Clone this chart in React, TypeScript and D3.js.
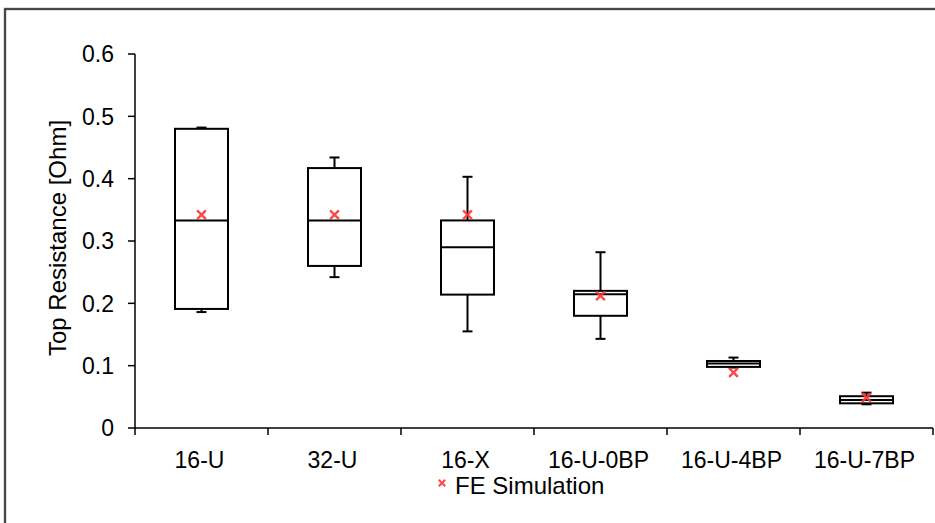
import React from "react";
import * as d3 from "d3";

const categories = ["16-U", "32-U", "16-X", "16-U-0BP", "16-U-4BP", "16-U-7BP"];
const whiskerLow = [0.186, 0.242, 0.155, 0.143, 0.097, 0.038];
const q1 = [0.191, 0.26, 0.214, 0.18, 0.098, 0.0396];
const median = [0.333, 0.333, 0.29, 0.2145, 0.1035, 0.045];
const q3 = [0.48, 0.417, 0.333, 0.22, 0.1075, 0.051];
const whiskerHigh = [0.482, 0.434, 0.403, 0.282, 0.113, 0.0567];
const feSimulation = [0.342, 0.342, 0.342, 0.212, 0.089, 0.049];
const yTicks = [0, 0.1, 0.2, 0.3, 0.4, 0.5, 0.6];

const width = 935;
const height = 523;
const font = "'Liberation Sans', Arial, sans-serif";
const red = "#ff3434";

const x = d3.scaleBand().domain(categories).range([135, 933]).padding(0);
const y = d3.scaleLinear().domain([0, 0.6]).range([428, 54]);

const boxW = 53;
const capW = 10;

const Cross = ({ cx, cy, r, w }: { cx: number; cy: number; r: number; w: number }) => (
  <g stroke={red} strokeWidth={w} strokeLinecap="square" opacity={0.9}>
    <line x1={cx - r} y1={cy - r} x2={cx + r} y2={cy + r} />
    <line x1={cx - r} y1={cy + r} x2={cx + r} y2={cy - r} />
  </g>
);

export default function App() {
  const data = categories.map((c, i) => ({
    c,
    lo: whiskerLow[i],
    q1: q1[i],
    med: median[i],
    q3: q3[i],
    hi: whiskerHigh[i],
    fe: feSimulation[i],
  }));
  const bounds = [...categories.map((c) => x(c) as number), x.range()[1]];

  return (
    <svg
      width={width}
      height={height}
      style={{ position: "absolute", left: 0, top: 0, background: "#fff" }}
      fontFamily={font}
    >
      {/* frame */}
      <path d={`M5,${height} V9 H${width}`} fill="none" stroke="#bbb" strokeWidth={3} />
      <path d={`M5,${height} V9 H${width}`} fill="none" stroke="#222" strokeWidth={1.5} />

      {/* y axis */}
      <line x1={135} x2={135} y1={y(0.6)} y2={y(0)} stroke="#000" strokeWidth={1.5} />
      {yTicks.map((t) => (
        <g key={t}>
          <line x1={128} x2={135} y1={y(t)} y2={y(t)} stroke="#000" strokeWidth={1.5} />
          <text x={114} y={y(t)} dy="0.36em" textAnchor="end" fontSize={23}>
            {t === 0 ? "0" : t.toFixed(1)}
          </text>
        </g>
      ))}
      <text
        transform={`translate(66,238) rotate(-90)`}
        textAnchor="middle"
        fontSize={24}
      >
        Top Resistance [Ohm]
      </text>

      {/* x axis */}
      <line x1={135} x2={x.range()[1]} y1={y(0)} y2={y(0)} stroke="#000" strokeWidth={1.5} />
      {bounds.map((b, i) => (
        <line key={i} x1={b} x2={b} y1={y(0)} y2={y(0) + 7} stroke="#000" strokeWidth={1.5} />
      ))}
      {categories.map((c) => (
        <text
          key={c}
          x={(x(c) as number) + x.bandwidth() / 2 - 2}
          y={468}
          textAnchor="middle"
          fontSize={23}
        >
          {c}
        </text>
      ))}

      {/* boxes */}
      {data.map((d) => {
        const cx = (x(d.c) as number) + x.bandwidth() / 2;
        return (
          <g key={d.c} stroke="#000" strokeWidth={2} fill="none">
            <line x1={cx} x2={cx} y1={y(d.hi)} y2={y(d.q3)} />
            <line x1={cx} x2={cx} y1={y(d.q1)} y2={y(d.lo)} />
            <line x1={cx - capW / 2} x2={cx + capW / 2} y1={y(d.hi)} y2={y(d.hi)} />
            <line x1={cx - capW / 2} x2={cx + capW / 2} y1={y(d.lo)} y2={y(d.lo)} />
            <rect x={cx - boxW / 2} y={y(d.q3)} width={boxW} height={y(d.q1) - y(d.q3)} fill="#fff" />
            <line x1={cx - boxW / 2} x2={cx + boxW / 2} y1={y(d.med)} y2={y(d.med)} />
          </g>
        );
      })}
      {data.map((d) => (
        <Cross key={d.c} cx={(x(d.c) as number) + x.bandwidth() / 2} cy={y(d.fe)} r={3.5} w={2.5} />
      ))}

      {/* legend */}
      <Cross cx={442} cy={483} r={2.5} w={2} />
      <text x={455} y={494} fontSize={24}>
        FE Simulation
      </text>
    </svg>
  );
}
